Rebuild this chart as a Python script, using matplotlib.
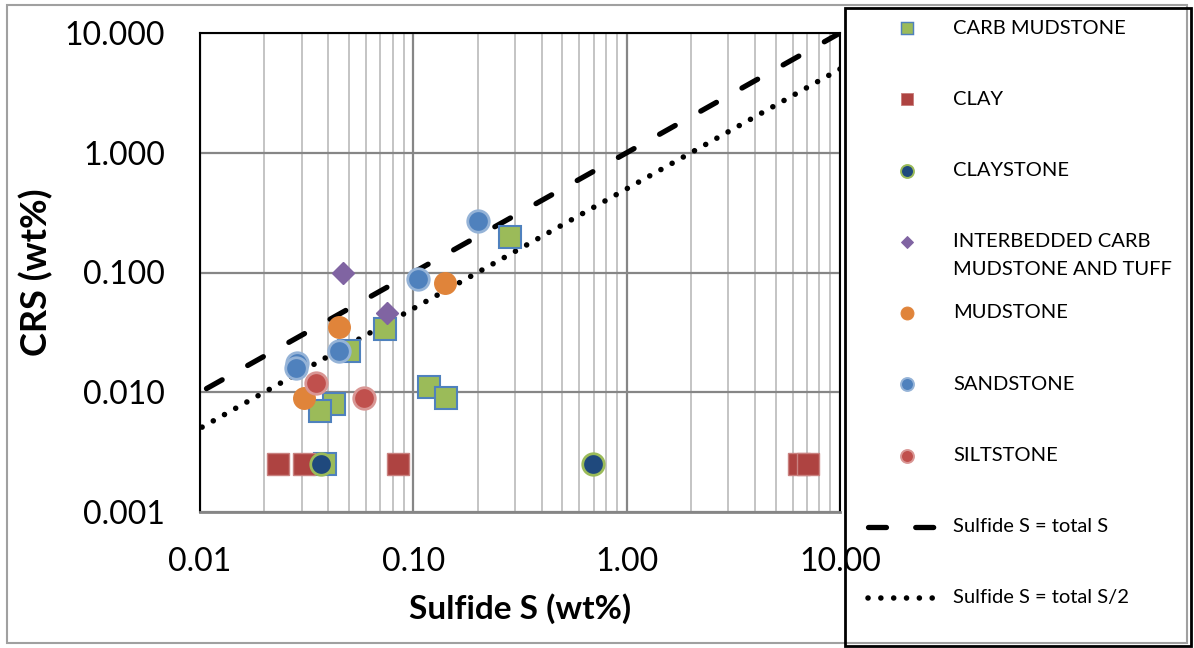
import matplotlib.pyplot as plt
from matplotlib.patches import Rectangle
import numpy as np

plt.rcParams['font.family'] = ['Lato', 'DejaVu Sans']

# data
carb_x = [0.284, 0.0736, 0.0498, 0.119, 0.143, 0.0427, 0.0364, 0.0387]
carb_y = [0.197, 0.034, 0.022, 0.011, 0.009, 0.008, 0.007, 0.0025]
clay_x = [0.0233, 0.0306, 0.085, 6.4, 7.05]
clay_y = [0.0025, 0.0025, 0.0025, 0.0025, 0.0025]
claystone_x = [0.037, 0.695]
claystone_y = [0.0025, 0.0025]
inter_x = [0.0467, 0.0755]
inter_y = [0.100, 0.046]
mud_x = [0.141, 0.045, 0.0306]
mud_y = [0.082, 0.035, 0.009]
sand_x = [0.202, 0.105, 0.045, 0.0285, 0.0282]
sand_y = [0.269, 0.088, 0.022, 0.0175, 0.016]
silt_x = [0.0351, 0.0586]
silt_y = [0.012, 0.009]
line_x = [10.0, 0.01]

fig = plt.figure(figsize=(11.94, 6.48), dpi=100)
ax = fig.add_axes([200/1194, 1-512/648, 640/1194, 479/648])

ms = 15.5
ax.plot(carb_x, carb_y, 's', ms=ms, mfc='#9BBB59', mec='#4F81BD', mew=1.5, label='CARB MUDSTONE', zorder=3)
ax.plot(clay_x, clay_y, 's', ms=ms, mfc='#AE4341', mec='#C98280', mew=1, label='CLAY', zorder=3)
ax.plot(claystone_x, claystone_y, 'o', ms=ms, mfc='#1F497D', mec='#9BBB59', mew=2, label='CLAYSTONE', zorder=3)
ax.plot(inter_x, inter_y, 'D', ms=11, mfc='#8064A2', mec='#8064A2', mew=1,
        label='INTERBEDDED CARB\nMUDSTONE AND TUFF', zorder=3)
ax.plot(mud_x, mud_y, 'o', ms=ms, mfc='#E0843A', mec='#E0843A', mew=1, label='MUDSTONE', zorder=3)
ax.plot(sand_x, sand_y, 'o', ms=ms, mfc='#4F81BD', mec='#95B3D7', mew=2, label='SANDSTONE', zorder=3)
ax.plot(silt_x, silt_y, 'o', ms=ms, mfc='#C0504D', mec='#D99694', mew=2, label='SILTSTONE', zorder=3)

# reference lines, drawn from the top right so the pattern starts at the corner
lx = np.array(line_x)
ax.plot(lx, lx, color='black', lw=3.8, dashes=(3.4, 5.55), dash_capstyle='round',
        label='Sulfide S = total S', zorder=2)
ax.plot(lx, lx/2, color='black', lw=4.0, dashes=(0.01, 2.3), dash_capstyle='round',
        label='Sulfide S = total S/2', zorder=2)

ax.set_xscale('log')
ax.set_yscale('log')
ax.set_xlim(0.01, 10)
ax.set_ylim(0.001, 10)
ax.set_xticks([0.01, 0.1, 1, 10])
ax.set_xticklabels(['0.01', '0.10', '1.00', '10.00'])
ax.set_yticks([0.001, 0.01, 0.1, 1, 10])
ax.set_yticklabels(['0.001', '0.010', '0.100', '1.000', '10.000'])
ax.set_xticks([m*10.0**e for e in (-2, -1, 0) for m in range(2, 10)], minor=True)
ax.set_yticks([], minor=True)
ax.tick_params(axis='both', which='both', length=0, labelsize=23)
ax.tick_params(axis='x', pad=25)
ax.tick_params(axis='y', pad=25)
ax.grid(True, which='major', color='#868686', lw=1.6, zorder=0)
ax.grid(True, which='minor', axis='x', color='#BFBFBF', lw=1.3, zorder=0)
for s in ('top', 'right', 'left'):
    ax.spines[s].set_color('black')
    ax.spines[s].set_linewidth(1.5)
ax.spines['bottom'].set_color('#868686')
ax.spines['bottom'].set_linewidth(2)
for t in ax.get_xticklabels() + ax.get_yticklabels():
    t.set_zorder(10)

ax.set_xlabel('Sulfide S (wt%)', fontsize=24, fontweight='bold', labelpad=12)
ax.set_ylabel('CRS (wt%)', fontsize=26, fontweight='bold', labelpad=8)

# outer chart border and legend box, drawn in pixel coordinates
lax = fig.add_axes([0, 0, 1, 1], zorder=5)
lax.set_xlim(0, 1194)
lax.set_ylim(648, 0)
lax.axis('off')
lax.add_patch(Rectangle((7, 5), 1180, 638, fill=False, ec='#A0A0A0', lw=1.5))
lax.add_patch(Rectangle((845, 8), 346, 638, fill=False, ec='black', lw=2))

handles, labels = ax.get_legend_handles_labels()
for i, (h, lab) in enumerate(zip(handles, labels)):
    yc = 28 + 71.25 * i
    if h.get_linestyle() == 'None':
        lax.plot([907], [yc], linestyle='None', marker=h.get_marker(),
                 mfc=h.get_markerfacecolor(), mec=h.get_markeredgecolor(),
                 mew=h.get_markeredgewidth() * 0.7, ms=h.get_markersize() * 0.6)
    else:
        hl, = lax.plot([868, 936], [yc, yc], color='black', lw=h.get_linewidth(),
                       dash_capstyle='round')
        hl.set_dashes(h._unscaled_dash_pattern[1])
    for k, line in enumerate(lab.split('\n')):
        lax.text(953, yc + 28 * k, line, fontsize=14.5, va='center', ha='left')

fig.savefig('out.png', dpi=100)
